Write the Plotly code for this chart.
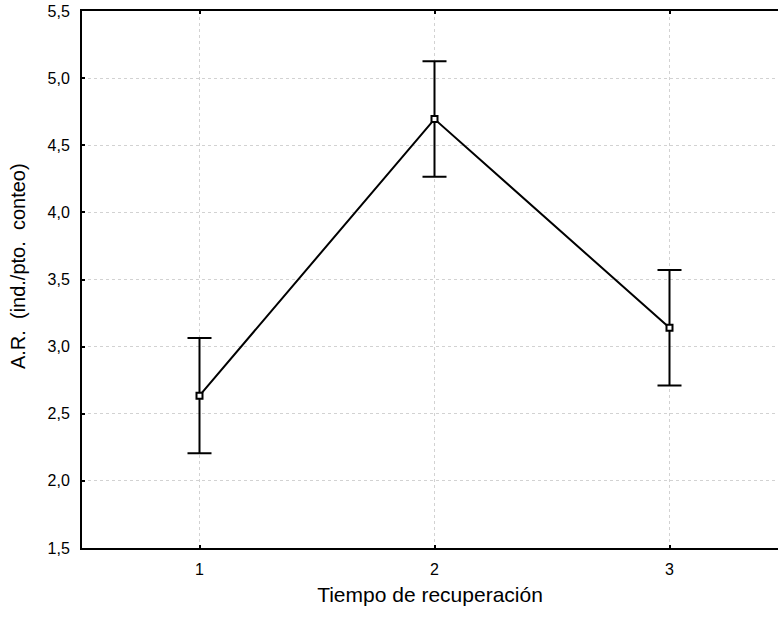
import plotly.graph_objects as go

x_vals = [1, 2, 3]
means = [2.635, 4.695, 3.14]
errors = [0.43, 0.43, 0.43]
y_ticks = [1.5, 2.0, 2.5, 3.0, 3.5, 4.0, 4.5, 5.0, 5.5]
x_ticks = [1, 2, 3]
x_title = "Tiempo de recuperación"
y_title = "A.R.  (ind./pto.  conteo)"

fig = go.Figure()
fig.add_trace(go.Scatter(
    x=x_vals, y=means, mode="lines+markers",
    line=dict(color="black", width=2),
    marker=dict(symbol="square", size=6, color="white",
                line=dict(color="black", width=2)),
    error_y=dict(type="data", array=errors, visible=True,
                 color="black", thickness=2, width=12),
    showlegend=False,
))

font_family = "Liberation Sans, Arial, sans-serif"
fig.update_layout(
    width=778, height=618,
    margin=dict(l=82, r=0, t=11, b=70),
    paper_bgcolor="white", plot_bgcolor="white",
    separators=",.",
    font=dict(family=font_family, color="black", size=16),
    xaxis=dict(
        range=[0.5, 3.4617], tickvals=x_ticks, ticktext=[str(v) for v in x_ticks],
        showline=True, linecolor="black", linewidth=2, mirror="ticks",
        ticks="inside", ticklen=3, tickcolor="black", tickwidth=2,
        showgrid=True, gridcolor="#d2d2d2", griddash="dot", gridwidth=1,
        zeroline=False, ticklabelstandoff=6,
        title=dict(text=x_title, font=dict(size=21), standoff=10),
        tickfont=dict(size=16),
    ),
    yaxis=dict(
        range=[1.5, 5.5], tickvals=y_ticks, tickformat=".1f",
        showline=True, linecolor="black", linewidth=2,
        ticks="inside", ticklen=3, tickcolor="black", tickwidth=2,
        showgrid=True, gridcolor="#d2d2d2", griddash="dot", gridwidth=1,
        zeroline=False, ticklabelstandoff=7,
        tickfont=dict(size=16),
    ),
    annotations=[dict(
        text=y_title, textangle=-90, showarrow=False,
        xref="paper", yref="paper", x=-0.092, y=0.525,
        xanchor="center", yanchor="middle", font=dict(size=20),
    )],
)

fig.write_html("out.html", config={"displayModeBar": False},
               post_script="document.body.style.margin='0';document.body.style.padding='0';")
